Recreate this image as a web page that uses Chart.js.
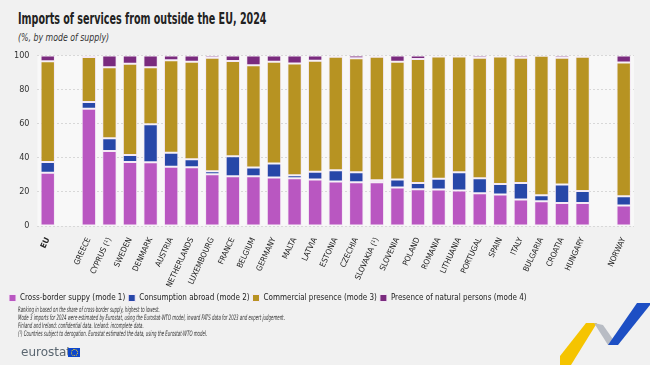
<!DOCTYPE html>
<html>
<head>
<meta charset="utf-8">
<script src="https://cdn.jsdelivr.net/npm/chart.js@4.4.1/dist/chart.umd.min.js"></script>
<style>
  html, body { margin: 0; padding: 0; }
  body { width: 650px; height: 365px; background: #f1f1f1; position: relative; overflow: hidden;
         font-family: "Liberation Sans Narrow", "DejaVu Sans Condensed", sans-serif; color: #222; }
  #title { position: absolute; left: 18px; top: 9px; font-size: 16px; font-weight: bold; color: #222; white-space: nowrap;
           transform: scaleX(0.665); transform-origin: left top; }
  #subtitle { position: absolute; left: 18px; top: 32px; font-size: 10px; font-style: italic; color: #333; white-space: nowrap;
              transform: scaleX(0.87); transform-origin: left top; }
  #wrap { position: absolute; left: 0; top: 42px; width: 650px; height: 270px; }
  #notes { position: absolute; left: 18px; top: 306px; font-size: 7.5px; font-style: italic; line-height: 8px; color: #333;
           transform: scaleX(0.58); transform-origin: left top; white-space: nowrap; }
  #logo { position: absolute; left: 21px; top: 345px; font-family: "DejaVu Sans", sans-serif; font-size: 12px; color: #5a6670; }
  #flag { position: absolute; left: 68px; top: 348px; width: 12px; height: 9px; background: #0e47cb; }
  #flag div { position: absolute; left: 3px; top: 1px; width: 5px; height: 5px; border: 1px dotted #ffd617; border-radius: 50%; }
  #deco { position: absolute; left: 0; top: 0; }
</style>
</head>
<body>
<div id="title">Imports of services from outside the EU, 2024</div>
<div id="subtitle">(%, by mode of supply)</div>
<div id="wrap"><canvas id="chart"></canvas></div>
<div id="notes">
  Ranking in based on the share of cross-border supply, highest to lowest.<br>
  Mode 3 imports for 2024 were estimated by Eurostat, using the Eurostat-WTO model, inward FATS data for 2023 and expert judgement.<br>
  Finland and Ireland: confidential data. Iceland: incomplete data.<br>
  (¹) Countries subject to derogation. Eurostat estimated the data, using the Eurostat-WTO model.
</div>
<div id="logo">eurostat</div>
<div id="flag"><div></div></div>
<svg id="deco" width="650" height="365">
  <polygon points="560,356 586,323 597,323 571,365 560,365" fill="#f5c400"/>
  <polygon points="594,323 603,325 617,345 608,345" fill="#b8bcc4"/>
  <polygon points="608,345 637,303 650,303 650,305 618,345" fill="#1d4fc4"/>
</svg>
<script>
// categories, empty strings are the gaps between EU / countries / Norway
var categories = [ "EU", "", "GREECE", "CYPRUS (¹)", "SWEDEN", "DENMARK", "AUSTRIA", "NETHERLANDS", "LUXEMBOURG",
	"FRANCE", "BELGIUM", "GERMANY", "MALTA", "LATVIA", "ESTONIA", "CZECHIA", "SLOVAKIA (¹)", "SLOVENIA", "POLAND",
	"ROMANIA", "LITHUANIA", "PORTUGAL", "SPAIN", "ITALY", "BULGARIA", "CROATIA", "HUNGARY", "", "NORWAY" ];

var mode1 = [ 31.2, null, 68.8, 44.0, 37.6, 37.4, 34.7, 34.5, 30.4, 29.2, 29.2, 28.5, 28.1, 27.3, 26.1, 25.7, 25.7,
	22.6, 21.6, 21.4, 20.9, 19.3, 18.5, 15.6, 14.6, 13.6, 13.6, null, 12.1 ];
var mode2 = [ 6.3, null, 3.9, 7.5, 4.1, 22.2, 8.2, 4.7, 1.8, 11.7, 5.1, 8.1, 1.7, 4.5, 6.6, 5.9, 1.2,
	4.7, 3.7, 6.3, 10.7, 8.8, 6.1, 9.7, 3.5, 10.8, 6.9, null, 5.4 ];
var mode3 = [ 59.0, null, 26.3, 41.5, 53.4, 33.4, 54.2, 57.1, 66.4, 55.8, 60.0, 59.7, 65.5, 65.1, 66.5, 66.8, 72.3,
	69.0, 72.6, 71.7, 67.8, 70.5, 74.8, 73.3, 81.7, 74.2, 78.7, null, 78.4 ];
var mode4 = [ 3.5, null, 1.0, 7.0, 4.9, 7.0, 2.9, 3.7, 1.4, 3.3, 5.7, 3.7, 4.7, 3.1, 0.8, 1.6, 0.8,
	3.7, 2.1, 0.6, 0.6, 1.4, 0.6, 1.4, 0.2, 1.4, 0.8, null, 4.1 ];

var yTicks = [ 0, 20, 40, 60, 80, 100 ];

var seriesNames = [ "Cross-border suppy (mode 1)", "Consumption abroad (mode 2)", "Commercial presence (mode 3)", "Presence of natural persons (mode 4)" ];
var seriesColors = [ "#b957c1", "#2747a8", "#b79322", "#7a2b7e" ];

var fontFamily = "'Liberation Sans Narrow', 'DejaVu Sans Condensed', sans-serif";

// light panel behind the plot
var plotBg = {
	id: "plotBg",
	beforeDraw: function( chart ) {
		var a = chart.chartArea, ctx = chart.ctx;
		ctx.save();
		ctx.fillStyle = "#f8f8f8";
		ctx.fillRect( a.left, a.top, a.right - a.left, a.bottom - a.top );
		ctx.restore();
	}
};

var datasets = [ mode1, mode2, mode3, mode4 ].map( function( d, i ) {
	return {
		label: seriesNames[ i ],
		data: d,
		backgroundColor: seriesColors[ i ],
		borderColor: "#f4e9f5",
		borderWidth: 1,
		borderSkipped: false,
		categoryPercentage: 1,
		barPercentage: 0.7
	};
} );

new Chart( document.getElementById( "chart" ), {
	type: "bar",
	data: { labels: categories, datasets: datasets },
	options: {
		responsive: true,
		maintainAspectRatio: false,
		animation: false,
		layout: { padding: { left: 6, right: 16, top: 8, bottom: 0 } },
		plugins: {
			tooltip: { enabled: false },
			legend: {
				position: "bottom",
				align: "start",
				labels: {
					boxWidth: 7,
					boxHeight: 7,
					padding: 3,
					color: "#222",
					font: { family: fontFamily, size: 8 }
				}
			}
		},
		scales: {
			x: {
				stacked: true,
				grid: { display: false },
				border: { display: false },
				ticks: {
					autoSkip: false,
					minRotation: 65,
					maxRotation: 65,
					padding: 2,
					color: "#222",
					font: function( ctx ) {
						return { family: fontFamily, size: 8, weight: ctx.index === 0 ? "bold" : "normal" };
					}
				}
			},
			y: {
				stacked: true,
				min: 0,
				max: 100,
				afterBuildTicks: function( axis ) {
					axis.ticks = yTicks.map( function( v ) { return { value: v }; } );
				},
				grid: { color: "#d8d8d8", lineWidth: 1, drawTicks: false },
				border: { display: false, dash: [ 2, 2 ] },
				ticks: {
					padding: 8,
					color: "#333",
					font: { family: fontFamily, size: 9 }
				}
			}
		}
	},
	plugins: [ plotBg ]
} );
</script>
</body>
</html>
